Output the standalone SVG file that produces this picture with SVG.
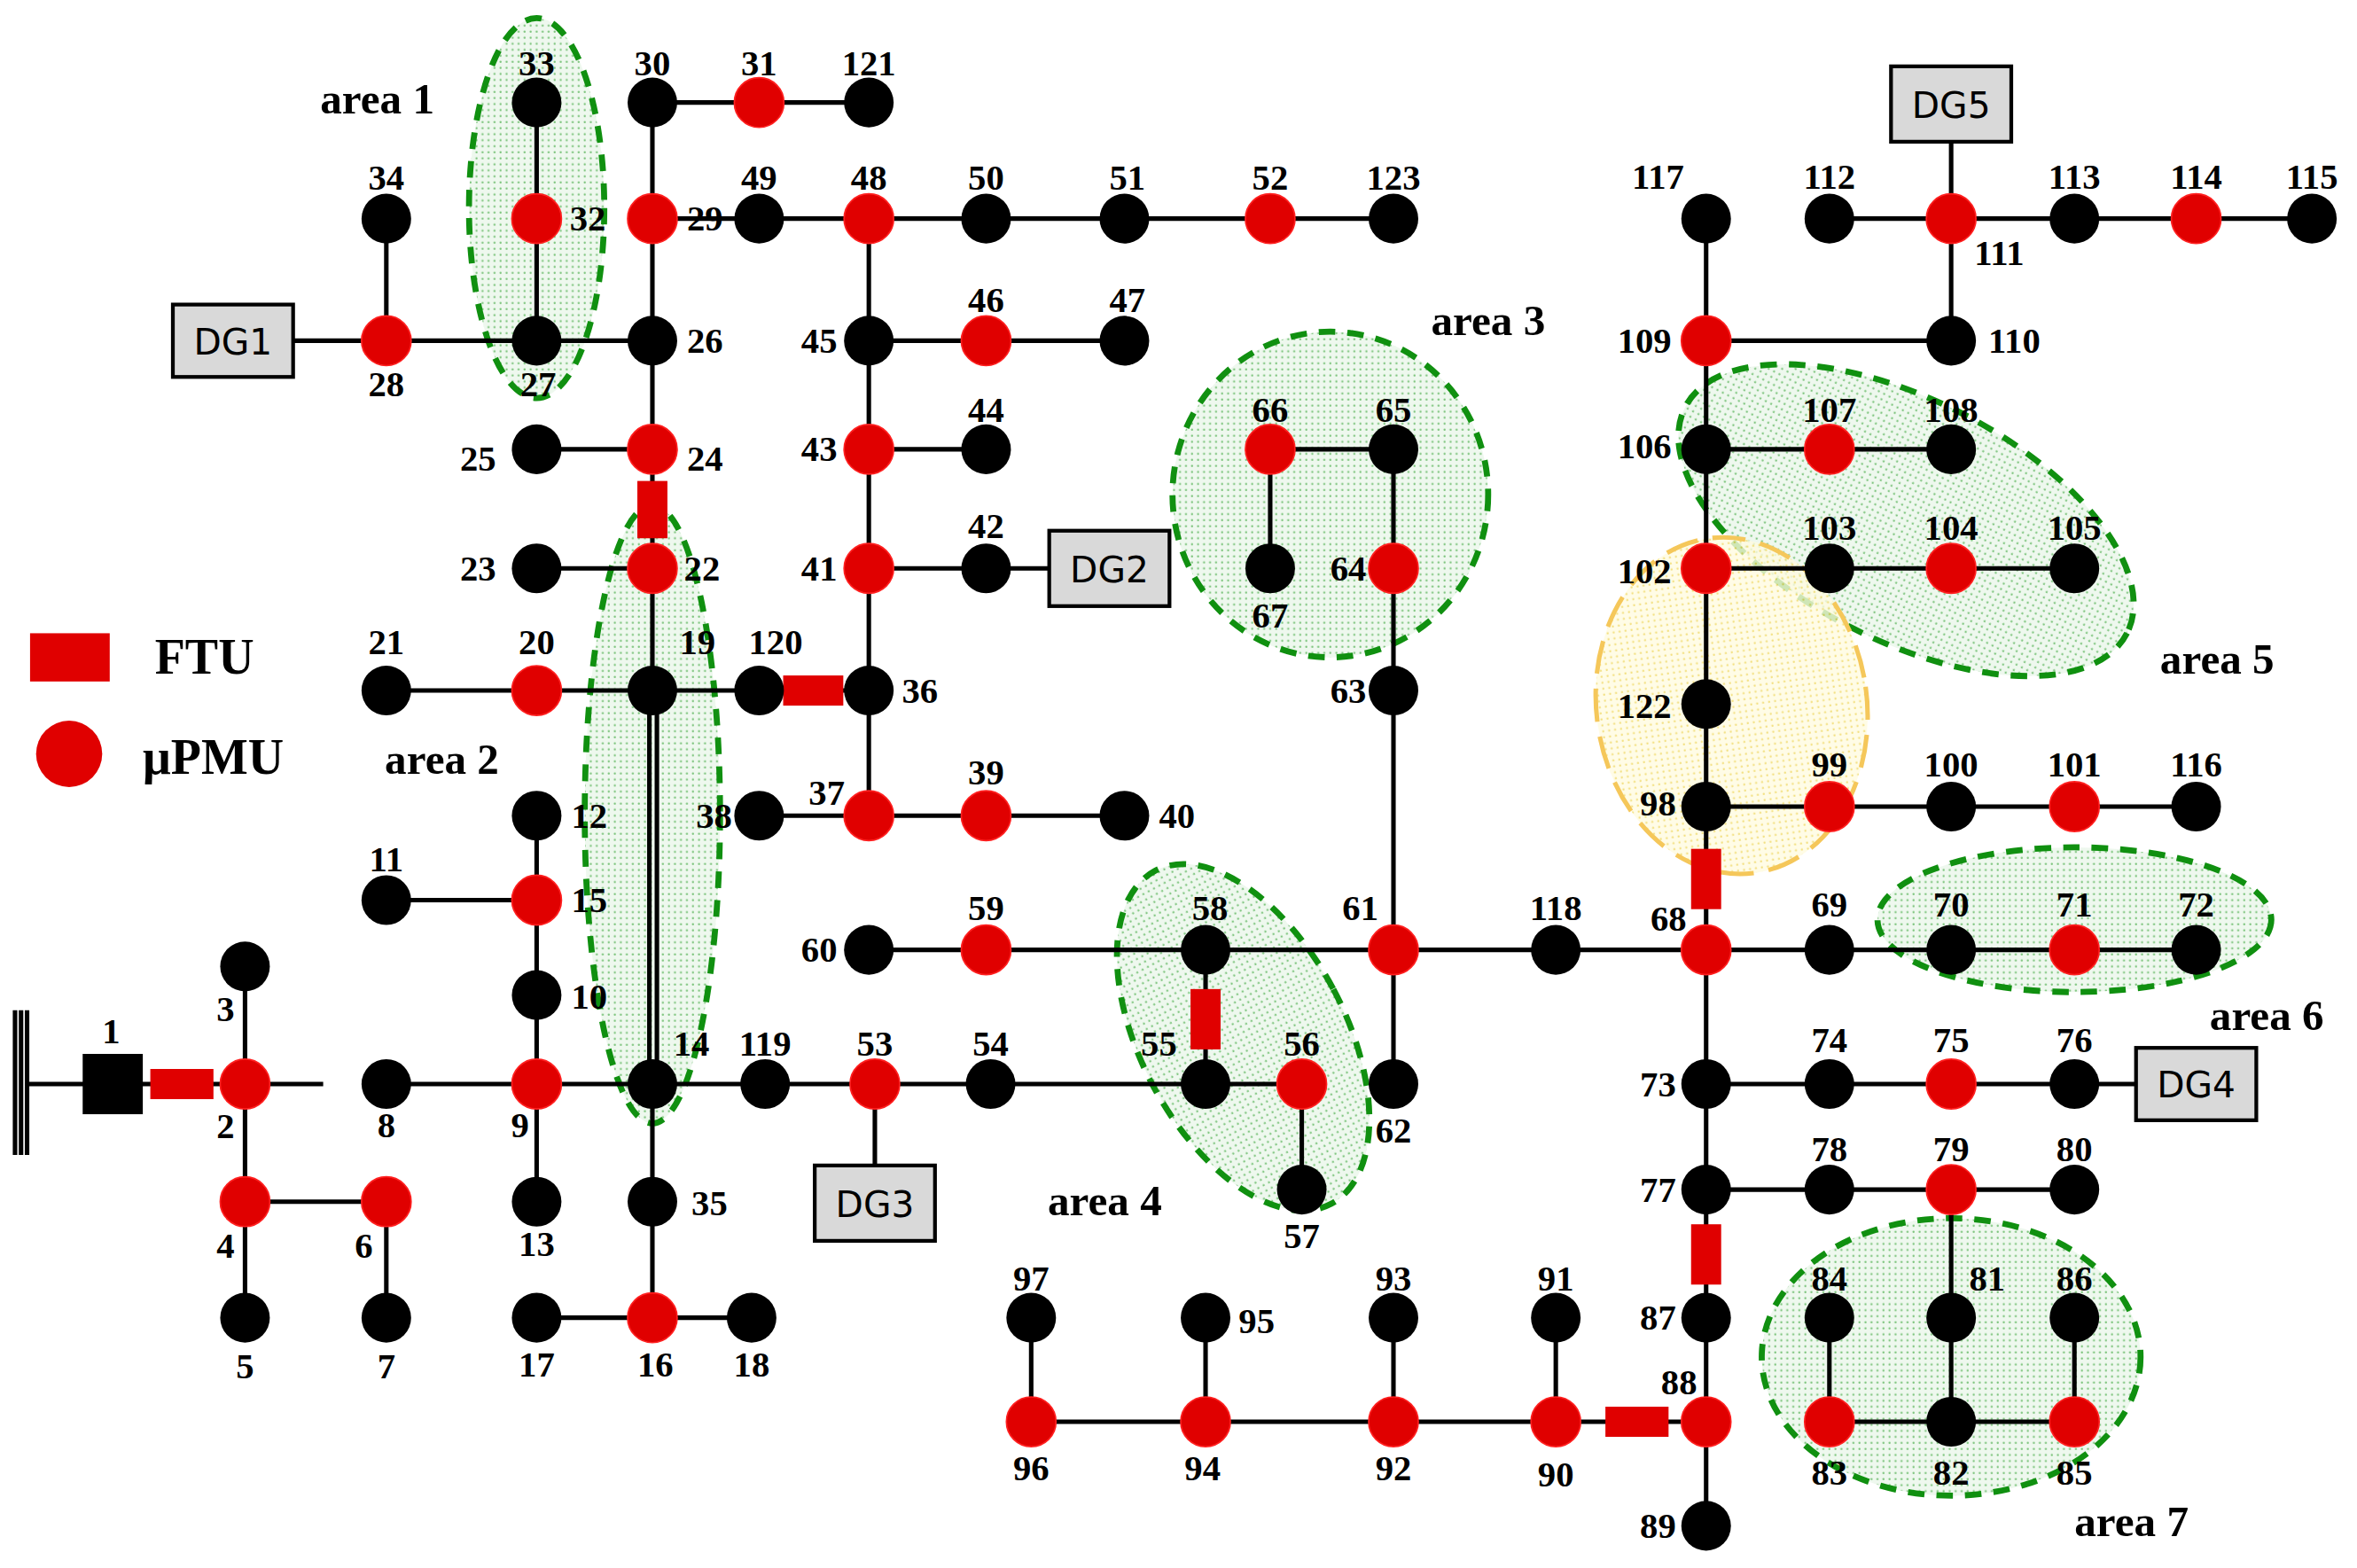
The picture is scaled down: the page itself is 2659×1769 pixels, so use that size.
<svg xmlns="http://www.w3.org/2000/svg" width="2659" height="1769" viewBox="0 0 2659 1769">
<defs>
<pattern id="dots" width="4" height="4" patternUnits="userSpaceOnUse"><rect width="4" height="4" fill="#eef8ee"/><circle cx="1" cy="1" r="0.7" fill="#7cc47c"/></pattern>
<pattern id="ydots" width="4" height="4" patternUnits="userSpaceOnUse"><rect width="4" height="4" fill="#fffbe0"/><circle cx="1" cy="1" r="0.7" fill="#f0d860"/></pattern>
</defs>
<style>
.e{stroke:#000;stroke-width:3;fill:none}
.b{fill:#000}
.r{fill:#e00000;stroke:#ff2020;stroke-width:1}
.f{fill:#e00000}
.t{font-family:"Liberation Serif",serif;font-weight:bold;font-size:24px;fill:#000;text-anchor:middle}
.a{font-family:"Liberation Serif",serif;font-weight:bold;font-size:29px;fill:#000}
.dg{fill:#d9d9d9;stroke:#000;stroke-width:2.5}
.dgt{font-family:"DejaVu Sans",sans-serif;font-size:24px;fill:#000;text-anchor:middle}
.ar{fill:url(#dots);stroke:#109010;stroke-width:4;stroke-dasharray:11,8}
.ay{fill:url(#ydots);fill-opacity:0.8;stroke:#f5c75a;stroke-width:3;stroke-dasharray:22,10}
</style>
<rect width="2659" height="1769" fill="#fff"/>
<g transform="scale(1.6958,1.701)">
<g id="areas">
<ellipse class="ar" cx="357" cy="138" rx="45" ry="126"/>
<ellipse class="ar" cx="434" cy="540" rx="45" ry="205"/>
<ellipse class="ar" cx="885" cy="328" rx="105" ry="108"/>
<ellipse class="ar" cx="827" cy="688" rx="68" ry="125" transform="rotate(-28 827 688)"/>
<ellipse class="ar" cx="1268" cy="345" rx="165" ry="80" transform="rotate(27 1268 345)"/>
<ellipse class="ay" cx="1152" cy="468" rx="90" ry="112" transform="rotate(-8 1152 468)"/>
<ellipse class="ar" cx="1380" cy="610" rx="131" ry="48"/>
<ellipse class="ar" cx="1298" cy="900" rx="126" ry="92"/>
</g>
<g id="connectors" class="e">
<path d="M10 670V766M14 670V766M18 670V766M18 719H215M163 641V874M163 797H257V874M257 719H357M357 541V797M257 597H357M357 719H509M432 458V719M437 458V719M434 719V874M357 874H500M509 719H802M582 719V797M802 630V719M802 719H866V789M578 630H1461M927 298V719M845 298H927M845 298V377M1135 145V1012M1135 535H1461M1135 377H1380M1135 298H1298M1135 226H1298V145M1217 145H1538M1298 145V68M1135 719H1461M1135 789H1380M1298 789V943M1217 943H1380M1217 874V943M1380 874V943M686 943H1135M686 874V943M802 874V943M927 874V943M1035 874V943"/>
<path d="M257 458H578M357 377H434M357 298H434M434 458V68H578M195 226H434M257 145V226M357 68V226M434 145H927M578 145V541M578 226H748M578 298H656M578 377H738M505 541H748"/>
</g>
<g id="ftu">
<rect class="f" x="100" y="709" width="42" height="20"/>
<rect class="f" x="424" y="319" width="20" height="38"/>
<rect class="f" x="521" y="448" width="40" height="20"/>
<rect class="f" x="792" y="656" width="20" height="40"/>
<rect class="f" x="1125" y="563" width="20" height="40"/>
<rect class="f" x="1125" y="812" width="20" height="40"/>
<rect class="f" x="1068" y="933" width="42" height="20"/>
</g>
<g id="dgs">
<rect class="dg" x="115" y="202" width="80" height="48"/><text class="dgt" x="155" y="235">DG1</text>
<rect class="dg" x="698" y="352" width="80" height="50"/><text class="dgt" x="738" y="386">DG2</text>
<rect class="dg" x="542" y="773" width="80" height="50"/><text class="dgt" x="582" y="807">DG3</text>
<rect class="dg" x="1421" y="695" width="80" height="48"/><text class="dgt" x="1461" y="728">DG4</text>
<rect class="dg" x="1258" y="44" width="80" height="50"/><text class="dgt" x="1298" y="78">DG5</text>
</g>
<g id="nodes">
<rect class="b" x="55" y="699" width="40" height="40"/>
<g class="b">
<circle cx="163" cy="641" r="16.5"/><circle cx="163" cy="874" r="16.5"/><circle cx="257" cy="874" r="16.5"/><circle cx="257" cy="719" r="16.5"/>
<circle cx="357" cy="660" r="16.5"/><circle cx="257" cy="597" r="16.5"/><circle cx="357" cy="541" r="16.5"/><circle cx="357" cy="797" r="16.5"/>
<circle cx="434" cy="719" r="16.5"/><circle cx="357" cy="874" r="16.5"/><circle cx="500" cy="874" r="16.5"/><circle cx="434" cy="458" r="16.5"/>
<circle cx="257" cy="458" r="16.5"/><circle cx="357" cy="377" r="16.5"/><circle cx="357" cy="298" r="16.5"/><circle cx="434" cy="226" r="16.5"/>
<circle cx="357" cy="226" r="16.5"/><circle cx="434" cy="68" r="16.5"/><circle cx="357" cy="68" r="16.5"/><circle cx="257" cy="145" r="16.5"/>
<circle cx="434" cy="797" r="16.5"/><circle cx="578" cy="458" r="16.5"/><circle cx="505" cy="541" r="16.5"/><circle cx="748" cy="541" r="16.5"/>
<circle cx="656" cy="377" r="16.5"/><circle cx="656" cy="298" r="16.5"/><circle cx="578" cy="226" r="16.5"/><circle cx="748" cy="226" r="16.5"/>
<circle cx="505" cy="145" r="16.5"/><circle cx="656" cy="145" r="16.5"/><circle cx="748" cy="145" r="16.5"/><circle cx="659" cy="719" r="16.5"/>
<circle cx="802" cy="719" r="16.5"/><circle cx="866" cy="789" r="16.5"/><circle cx="802" cy="630" r="16.5"/><circle cx="578" cy="630" r="16.5"/>
<circle cx="927" cy="719" r="16.5"/><circle cx="927" cy="458" r="16.5"/><circle cx="927" cy="298" r="16.5"/><circle cx="845" cy="377" r="16.5"/>
<circle cx="1217" cy="630" r="16.5"/><circle cx="1298" cy="630" r="16.5"/><circle cx="1461" cy="630" r="16.5"/><circle cx="1135" cy="719" r="16.5"/>
<circle cx="1217" cy="719" r="16.5"/><circle cx="1380" cy="719" r="16.5"/><circle cx="1135" cy="789" r="16.5"/><circle cx="1217" cy="789" r="16.5"/>
<circle cx="1380" cy="789" r="16.5"/><circle cx="1298" cy="874" r="16.5"/><circle cx="1298" cy="943" r="16.5"/><circle cx="1217" cy="874" r="16.5"/>
<circle cx="1380" cy="874" r="16.5"/><circle cx="1135" cy="874" r="16.5"/><circle cx="1135" cy="1012" r="16.5"/><circle cx="1035" cy="874" r="16.5"/>
<circle cx="927" cy="874" r="16.5"/><circle cx="802" cy="874" r="16.5"/><circle cx="686" cy="874" r="16.5"/><circle cx="1135" cy="535" r="16.5"/>
<circle cx="1298" cy="535" r="16.5"/><circle cx="1217" cy="377" r="16.5"/><circle cx="1380" cy="377" r="16.5"/><circle cx="1135" cy="298" r="16.5"/>
<circle cx="1298" cy="298" r="16.5"/><circle cx="1298" cy="226" r="16.5"/><circle cx="1217" cy="145" r="16.5"/><circle cx="1380" cy="145" r="16.5"/>
<circle cx="1538" cy="145" r="16.5"/><circle cx="1461" cy="535" r="16.5"/><circle cx="1135" cy="145" r="16.5"/><circle cx="1035" cy="630" r="16.5"/>
<circle cx="509" cy="719" r="16.5"/><circle cx="505" cy="458" r="16.5"/><circle cx="578" cy="68" r="16.5"/><circle cx="1135" cy="467" r="16.5"/>
<circle cx="927" cy="145" r="16.5"/>
</g>
<g class="r">
<circle cx="163" cy="719" r="16.5"/><circle cx="163" cy="797" r="16.5"/><circle cx="257" cy="797" r="16.5"/><circle cx="357" cy="719" r="16.5"/>
<circle cx="357" cy="597" r="16.5"/><circle cx="434" cy="874" r="16.5"/><circle cx="357" cy="458" r="16.5"/><circle cx="434" cy="377" r="16.5"/>
<circle cx="434" cy="298" r="16.5"/><circle cx="257" cy="226" r="16.5"/><circle cx="434" cy="145" r="16.5"/><circle cx="505" cy="68" r="16.5"/>
<circle cx="357" cy="145" r="16.5"/><circle cx="578" cy="541" r="16.5"/><circle cx="656" cy="541" r="16.5"/><circle cx="578" cy="377" r="16.5"/>
<circle cx="578" cy="298" r="16.5"/><circle cx="656" cy="226" r="16.5"/><circle cx="578" cy="145" r="16.5"/><circle cx="845" cy="145" r="16.5"/>
<circle cx="582" cy="719" r="16.5"/><circle cx="866" cy="719" r="16.5"/><circle cx="656" cy="630" r="16.5"/><circle cx="927" cy="630" r="16.5"/>
<circle cx="927" cy="377" r="16.5"/><circle cx="845" cy="298" r="16.5"/><circle cx="1135" cy="630" r="16.5"/><circle cx="1380" cy="630" r="16.5"/>
<circle cx="1298" cy="719" r="16.5"/><circle cx="1298" cy="789" r="16.5"/><circle cx="1217" cy="943" r="16.5"/><circle cx="1380" cy="943" r="16.5"/>
<circle cx="1135" cy="943" r="16.5"/><circle cx="1035" cy="943" r="16.5"/><circle cx="927" cy="943" r="16.5"/><circle cx="802" cy="943" r="16.5"/>
<circle cx="686" cy="943" r="16.5"/><circle cx="1217" cy="535" r="16.5"/><circle cx="1380" cy="535" r="16.5"/><circle cx="1135" cy="377" r="16.5"/>
<circle cx="1298" cy="377" r="16.5"/><circle cx="1217" cy="298" r="16.5"/><circle cx="1135" cy="226" r="16.5"/><circle cx="1298" cy="145" r="16.5"/>
<circle cx="1461" cy="145" r="16.5"/>
</g>
</g>
<g id="labels" class="t">
<text x="74" y="692">1</text><text x="150" y="755">2</text><text x="150" y="677">3</text><text x="150" y="834">4</text><text x="163" y="914">5</text>
<text x="242" y="834">6</text><text x="257" y="914">7</text><text x="257" y="754">8</text><text x="346" y="754">9</text><text x="392" y="669">10</text>
<text x="257" y="578">11</text><text x="392" y="549">12</text><text x="357" y="833">13</text><text x="460" y="700">14</text><text x="392" y="605">15</text>
<text x="436" y="913">16</text><text x="357" y="913">17</text><text x="500" y="913">18</text><text x="464" y="434">19</text><text x="357" y="434">20</text>
<text x="257" y="434">21</text><text x="467" y="385">22</text><text x="318" y="385">23</text><text x="469" y="312">24</text><text x="318" y="312">25</text>
<text x="469" y="234">26</text><text x="358" y="263">27</text><text x="257" y="263">28</text><text x="469" y="153">29</text><text x="434" y="50">30</text>
<text x="505" y="50">31</text><text x="391" y="153">32</text><text x="357" y="50">33</text><text x="257" y="126">34</text><text x="472" y="806">35</text>
<text x="612" y="466">36</text><text x="550" y="534">37</text><text x="475" y="549">38</text><text x="656" y="520">39</text><text x="783" y="549">40</text>
<text x="545" y="385">41</text><text x="656" y="357">42</text><text x="545" y="306">43</text><text x="656" y="280">44</text><text x="545" y="234">45</text>
<text x="656" y="207">46</text><text x="750" y="207">47</text><text x="578" y="126">48</text><text x="505" y="126">49</text><text x="656" y="126">50</text>
<text x="750" y="126">51</text><text x="845" y="126">52</text><text x="582" y="700">53</text><text x="659" y="700">54</text><text x="771" y="700">55</text>
<text x="866" y="700">56</text><text x="866" y="828">57</text><text x="805" y="610">58</text><text x="656" y="610">59</text><text x="545" y="638">60</text>
<text x="905" y="610">61</text><text x="927" y="758">62</text><text x="897" y="466">63</text><text x="897" y="385">64</text><text x="927" y="280">65</text>
<text x="845" y="280">66</text><text x="845" y="416">67</text><text x="1110" y="617">68</text><text x="1217" y="608">69</text><text x="1298" y="608">70</text>
<text x="1380" y="608">71</text><text x="1461" y="608">72</text><text x="1103" y="727">73</text><text x="1217" y="698">74</text><text x="1298" y="698">75</text>
<text x="1380" y="698">76</text><text x="1103" y="797">77</text><text x="1217" y="770">78</text><text x="1298" y="770">79</text><text x="1380" y="770">80</text>
<text x="1322" y="856">81</text><text x="1298" y="985">82</text><text x="1217" y="985">83</text><text x="1217" y="856">84</text><text x="1380" y="985">85</text>
<text x="1380" y="856">86</text><text x="1103" y="882">87</text><text x="1117" y="925">88</text><text x="1103" y="1020">89</text><text x="1035" y="986">90</text>
<text x="1035" y="856">91</text><text x="927" y="982">92</text><text x="927" y="856">93</text><text x="800" y="982">94</text><text x="836" y="884">95</text>
<text x="686" y="982">96</text><text x="686" y="856">97</text><text x="1103" y="541">98</text><text x="1217" y="515">99</text><text x="1298" y="515">100</text>
<text x="1380" y="515">101</text><text x="1094" y="387">102</text><text x="1217" y="358">103</text><text x="1298" y="358">104</text><text x="1380" y="358">105</text>
<text x="1094" y="304">106</text><text x="1217" y="280">107</text><text x="1298" y="280">108</text><text x="1094" y="234">109</text><text x="1340" y="234">110</text>
<text x="1330" y="176">111</text><text x="1217" y="125">112</text><text x="1380" y="125">113</text><text x="1461" y="125">114</text><text x="1538" y="125">115</text>
<text x="1461" y="515">116</text><text x="1103" y="125">117</text><text x="1035" y="610">118</text><text x="509" y="700">119</text><text x="516" y="434">120</text>
<text x="578" y="50">121</text><text x="1094" y="476">122</text><text x="927" y="126">123</text>
</g>
<g id="areatext" class="a">
<text x="213" y="75">area 1</text><text x="256" y="513">area 2</text><text x="952" y="222">area 3</text><text x="697" y="806">area 4</text>
<text x="1437" y="447">area 5</text><text x="1470" y="683">area 6</text><text x="1380" y="1019">area 7</text>
</g>
<g id="legend">
<rect class="f" x="20" y="420" width="53" height="32"/>
<text class="a" x="103" y="447" style="font-size:33px">FTU</text>
<circle class="f" cx="46" cy="500" r="22"/>
<text class="a" x="95" y="513" style="font-size:33px">μPMU</text>
</g>
</g>
</svg>
